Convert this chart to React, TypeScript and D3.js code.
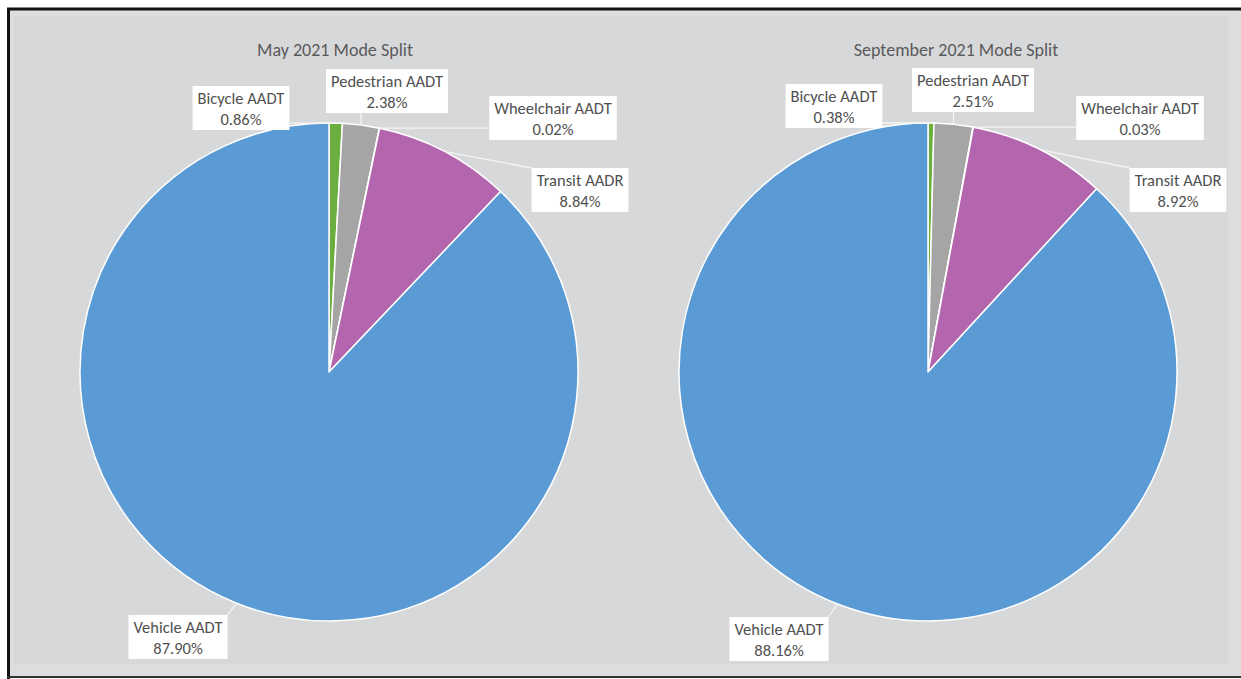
import React, { useEffect, useRef } from "react";
import * as d3 from "d3";

// ---- Data ----
const categories = ["Bicycle AADT", "Pedestrian AADT", "Wheelchair AADT", "Transit AADR", "Vehicle AADT"];
const mayValues = [0.86, 2.38, 0.02, 8.84, 87.9];
const septemberValues = [0.38, 2.51, 0.03, 8.92, 88.16];
const chartTitles = ["May 2021 Mode Split", "September 2021 Mode Split"];
const seriesList = [mayValues, septemberValues];

// ---- Styles / layout ----
const sliceColors = ["#6aaf3d", "#a5a5a5", "#f0a030", "#b366ad", "#5b9bd5"];
const W = 1241;
const H = 679;
const FONT = "Carlito, Lato, 'Open Sans', sans-serif";
const TEXT_COLOR = "#505050";
const LABEL_SIZE = 16.5;

const pieLayout = [
  {
    cx: 329, cy: 372, r: 249, titleX: 335, titleY: 50,
    labelOffsets: [[-88, -264], [58, -281], [224, -254], [251, -182], [-151, 265]],
  },
  {
    cx: 928, cy: 372, r: 249, titleX: 956, titleY: 50,
    labelOffsets: [[-94, -266], [45, -282], [212, -254], [250, -182], [-149, 267]],
  },
];

export default function App() {
  const ref = useRef<SVGSVGElement | null>(null);

  useEffect(() => {
    const svg = d3.select(ref.current);
    svg.selectAll("*").remove();

    // background & frame
    svg.append("rect").attr("x", 0).attr("y", 0).attr("width", W).attr("height", H).attr("fill", "#ffffff");
    svg.append("rect").attr("x", 8).attr("y", 9).attr("width", W - 8).attr("height", H - 11).attr("fill", "#dcdddf");
    svg.append("rect").attr("x", 14).attr("y", 16).attr("width", 1214).attr("height", 648).attr("fill", "#d7d8da");
    svg.append("line").attr("x1", 7).attr("x2", W).attr("y1", 9).attr("y2", 9).attr("stroke", "#111").attr("stroke-width", 3);
    svg.append("line").attr("x1", 8.5).attr("x2", 8.5).attr("y1", 8).attr("y2", H).attr("stroke", "#111").attr("stroke-width", 3);
    svg.append("line").attr("x1", 7).attr("x2", W).attr("y1", 677).attr("y2", 677).attr("stroke", "#333").attr("stroke-width", 2);

    const pie = d3.pie<number>().sort(null).value((d) => d).startAngle(0).endAngle(2 * Math.PI);

    seriesList.forEach((values, ci) => {
      const L = pieLayout[ci];
      const g = svg.append("g").attr("transform", `translate(${L.cx},${L.cy})`);
      const arcs = pie(values);
      const arc = d3.arc<d3.PieArcDatum<number>>().innerRadius(0).outerRadius(L.r);

      g.selectAll("path.slice")
        .data(arcs)
        .join("path")
        .attr("class", "slice")
        .attr("d", arc as any)
        .attr("fill", (_d, i) => sliceColors[i])
        .attr("stroke", "#ffffff")
        .attr("stroke-width", 1.5)
        .attr("stroke-linejoin", "round");

      // title
      svg.append("text")
        .attr("x", L.titleX)
        .attr("y", L.titleY)
        .attr("text-anchor", "middle")
        .attr("dominant-baseline", "central")
        .attr("font-family", FONT)
        .attr("font-size", 18)
        .attr("fill", "#5a5a5a")
        .text(chartTitles[ci]);

      // labels
      arcs.forEach((a, i) => {
        const mid = (a.startAngle + a.endAngle) / 2;
        const ax = Math.sin(mid) * L.r;
        const ay = -Math.cos(mid) * L.r;
        const [ox, oy] = L.labelOffsets[i];
        const lg = g.append("g");
        const leader = lg.append("line").attr("stroke", "#f4f4f4").attr("stroke-width", 1.3);
        const rect = lg.append("rect").attr("fill", "#ffffff");
        const t1 = lg.append("text")
          .attr("x", ox).attr("y", oy - 10.5)
          .attr("text-anchor", "middle").attr("dominant-baseline", "central")
          .attr("font-family", FONT).attr("font-size", LABEL_SIZE).attr("fill", TEXT_COLOR)
          .text(categories[i]);
        const t2 = lg.append("text")
          .attr("x", ox).attr("y", oy + 10.5)
          .attr("text-anchor", "middle").attr("dominant-baseline", "central")
          .attr("font-family", FONT).attr("font-size", LABEL_SIZE).attr("fill", TEXT_COLOR)
          .text(d3.format(".2f")(values[i]) + "%");
        const w1 = (t1.node() as SVGTextElement).getComputedTextLength();
        const w2 = (t2.node() as SVGTextElement).getComputedTextLength();
        const bw = Math.max(w1, w2) + 10;
        const bh = 44;
        const bx = ox - bw / 2;
        const by = oy - bh / 2;
        rect.attr("x", bx).attr("y", by).attr("width", bw).attr("height", bh);
        const nx = Math.max(bx, Math.min(bx + bw, ax));
        const ny = Math.max(by, Math.min(by + bh, ay));
        leader.attr("x1", ax).attr("y1", ay).attr("x2", nx).attr("y2", ny);
      });
    });
  }, []);

  return (
    <svg
      ref={ref}
      width={W}
      height={H}
      style={{ position: "absolute", left: 0, top: 0, display: "block" }}
    />
  );
}
